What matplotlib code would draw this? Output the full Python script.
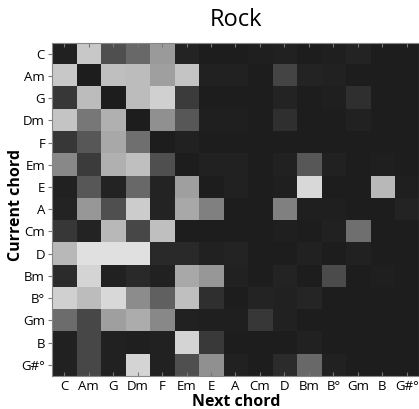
import numpy as np
import matplotlib
matplotlib.use("Agg")
import matplotlib.pyplot as plt
from matplotlib.colors import LinearSegmentedColormap

plt.rcParams['font.family'] = ['Open Sans', 'DejaVu Sans']

chords = ["C", "Am", "G", "Dm", "F", "Em", "E", "A", "Cm", "D", "Bm", "B°", "Gm", "B", "G#°"]

# transition intensities (row = current chord, column = next chord)
row_C   = [0.03, 0.86, 0.26, 0.38, 0.63, 0.04, 0.01, 0.01, 0.02, 0.03, 0.01, 0.02, 0.04, 0.01, 0.01]
row_Am  = [0.86, 0.01, 0.82, 0.80, 0.66, 0.84, 0.03, 0.03, 0.01, 0.20, 0.04, 0.03, 0.01, 0.01, 0.01]
row_G   = [0.14, 0.80, 0.01, 0.80, 0.90, 0.16, 0.01, 0.01, 0.01, 0.04, 0.01, 0.02, 0.10, 0.01, 0.01]
row_Dm  = [0.84, 0.46, 0.74, 0.01, 0.58, 0.30, 0.02, 0.02, 0.01, 0.10, 0.01, 0.01, 0.03, 0.01, 0.01]
row_F   = [0.14, 0.30, 0.70, 0.42, 0.01, 0.03, 0.01, 0.01, 0.01, 0.01, 0.01, 0.01, 0.01, 0.01, 0.01]
row_Em  = [0.54, 0.16, 0.74, 0.82, 0.26, 0.01, 0.03, 0.03, 0.01, 0.03, 0.30, 0.03, 0.01, 0.02, 0.01]
row_E   = [0.03, 0.30, 0.04, 0.38, 0.04, 0.66, 0.01, 0.03, 0.01, 0.02, 0.94, 0.01, 0.01, 0.78, 0.02]
row_A   = [0.04, 0.62, 0.26, 0.88, 0.04, 0.70, 0.50, 0.01, 0.01, 0.50, 0.02, 0.02, 0.01, 0.01, 0.04]
row_Cm  = [0.14, 0.04, 0.78, 0.22, 0.82, 0.01, 0.01, 0.01, 0.01, 0.02, 0.01, 0.03, 0.42, 0.01, 0.01]
row_D   = [0.78, 0.98, 0.98, 0.98, 0.07, 0.07, 0.03, 0.04, 0.01, 0.01, 0.03, 0.01, 0.03, 0.01, 0.01]
row_Bm  = [0.08, 0.92, 0.03, 0.07, 0.03, 0.70, 0.62, 0.03, 0.01, 0.04, 0.01, 0.24, 0.01, 0.02, 0.01]
row_Bdim = [0.90, 0.80, 0.94, 0.56, 0.34, 0.82, 0.10, 0.01, 0.04, 0.03, 0.05, 0.01, 0.01, 0.01, 0.01]
row_Gm  = [0.40, 0.22, 0.66, 0.72, 0.54, 0.03, 0.02, 0.02, 0.14, 0.03, 0.01, 0.01, 0.01, 0.01, 0.01]
row_B   = [0.03, 0.22, 0.03, 0.02, 0.03, 0.92, 0.15, 0.01, 0.01, 0.01, 0.03, 0.01, 0.01, 0.01, 0.01]
row_Gsdim = [0.03, 0.22, 0.03, 0.92, 0.03, 0.26, 0.58, 0.03, 0.01, 0.08, 0.38, 0.03, 0.01, 0.01, 0.01]

matrix = np.array([row_C, row_Am, row_G, row_Dm, row_F, row_Em, row_E, row_A,
                   row_Cm, row_D, row_Bm, row_Bdim, row_Gm, row_B, row_Gsdim])

cmap = LinearSegmentedColormap.from_list("rockgray", ["#1c1c1c", "#e4e4e4"])

fig = plt.figure(figsize=(4.19, 4.09), dpi=100)
ax = fig.add_axes([0.124, 0.081, 0.876, 0.815])
ax.imshow(matrix, cmap=cmap, vmin=0, vmax=1, aspect='auto', interpolation='nearest')

ax.set_xticks(range(len(chords)))
ax.set_xticklabels(chords, fontsize=9.5)
ax.set_yticks(range(len(chords)))
ax.set_yticklabels(chords, fontsize=9.5)
ax.tick_params(axis='x', direction='in', length=3, color='#777777', top=True, bottom=True, pad=3)
ax.tick_params(axis='y', direction='out', length=3, color='#777777', left=True, right=False, pad=2)
for s in ax.spines.values():
    s.set_color('#888888')
    s.set_linewidth(0.8)

fig.text(0.563, 0.950, "Rock", ha='center', va='center', fontsize=17)
fig.text(0.563, 0.016, "Next chord", ha='center', va='center', fontsize=11.5, fontweight='bold')
fig.text(0.038, 0.499, "Current chord", ha='center', va='center', rotation=90, fontsize=11.5, fontweight='bold')

fig.savefig("out.png", dpi=100)
